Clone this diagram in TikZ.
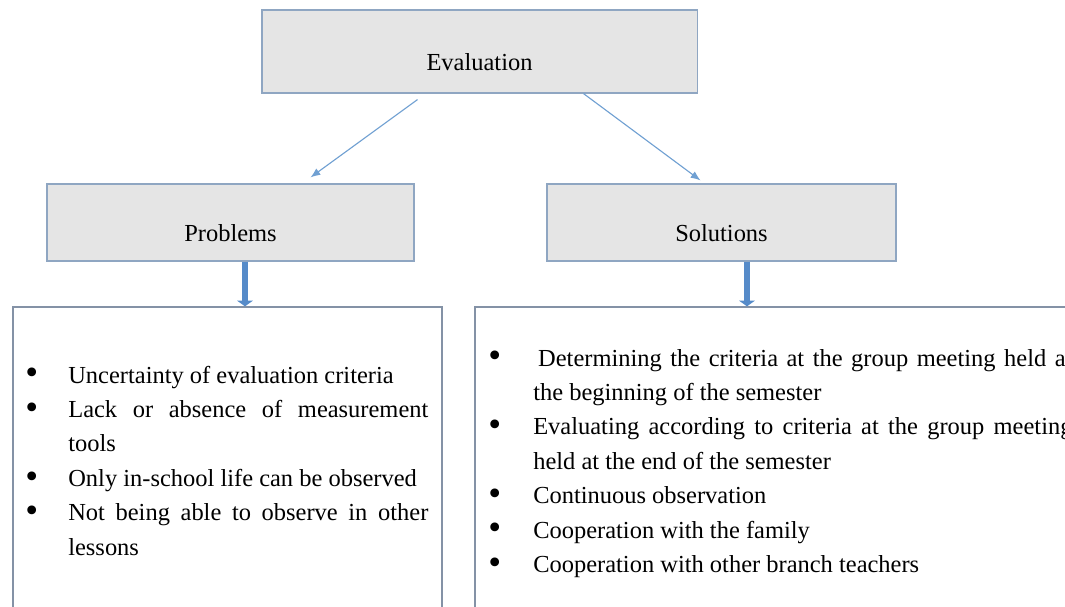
\documentclass[tikz,border=0pt]{standalone}
\usepackage{fontspec}
\setmainfont{Liberation Serif}
\usepackage{graphicx}
\usepackage{tikz}
\usetikzlibrary{arrows.meta,calc}
\definecolor{headfill}{RGB}{229,229,229}
\definecolor{headedge}{RGB}{143,166,194}
\definecolor{listedge}{RGB}{132,146,166}
\definecolor{thinblue}{RGB}{112,160,210}
\definecolor{thickblue}{RGB}{86,139,201}
\tikzstyle{head box}=[draw=headedge,fill=headfill,line width=0.8pt,inner sep=0pt,text height=30.5pt,text depth=4pt,minimum height=1.925cm]
\tikzstyle{list box}=[draw=listedge,line width=0.9pt,inner sep=0pt]
\tikzstyle{list text}=[anchor=base west,inner sep=0pt,align=justify]
\tikzstyle{thin edge}=[draw=thinblue,line width=0.8pt,-{Latex[length=7pt,width=5.5pt]}]
\tikzstyle{thick edge}=[draw=thickblue,line width=4.5pt,-{Triangle[length=4pt,width=11pt]}]
\newlength{\bulhang}
\newcommand{\bul}[1]{\noindent\hangindent=\bulhang\hangafter=1\makebox[\bulhang][l]{\raisebox{-1.2pt}{\scalebox{1.5}{\textbullet}}}#1\par}

\begin{document}
\begin{tikzpicture}[x=0.025cm,y=-0.025cm,font=\fontsize{17.4}{24.5}\selectfont]
    \useasboundingbox (0,0) rectangle (1065,606);
    \clip (0,0) rectangle (1065,606);
    % The three grey heading boxes
    \node[head box,minimum width=10.875cm,minimum height=2.075cm] (eval) at (479.5,51.5) {Evaluation};
    \node[head box,minimum width=9.175cm] (prob) at (230.5,222.5) {Problems};
    \node[head box,minimum width=8.725cm] (sol) at (721.5,222.5) {Solutions};

    % The two list boxes (cut off at the bottom)
    \node[list box,minimum width=10.725cm,minimum height=7.7cm] (problist) at (227.5,461) {};
    \node[list box,minimum width=15.25cm,minimum height=7.7cm] (sollist) at (780,461) {};

    % Arrows from the top box down to the headings
    \path[thin edge] ($(eval.south)+(-62,6)$) -- ($(prob.north)+(80,-6)$);
    \path[thin edge] ($(eval.south)+(104,0)$) -- ($(sol.north)+(-21,-3)$);

    % Thick arrows from the headings into the lists
    \coordinate (probfoot) at ($(prob.south)+(14.5,0)$);
    \coordinate (solfoot) at ($(sol.south)+(25.5,0)$);
    \foreach \source/\dest in {probfoot/problist, solfoot/sollist}
        \path[thick edge] (\source) -- (\source |- \dest.north);

    % List texts
    \node[list text,text width=10.075cm] (probtext) at (25,383) {\setlength{\bulhang}{30.6pt}%
        \bul{Uncertainty of evaluation criteria}
        \bul{Lack or absence of measurement\linebreak tools}
        \bul{Only in-school life can be observed}
        \bul{Not being able to observe in other\linebreak lessons}};
    \node[list text,text width=14.6cm] (soltext) at (488,366) {\setlength{\bulhang}{32pt}%
        \bul{\hspace{3.5pt}Determining the criteria at the group meeting held at\linebreak the beginning of the semester}
        \bul{Evaluating according to criteria at the group meeting\linebreak held at the end of the semester}
        \bul{Continuous observation}
        \bul{Cooperation with the family}
        \bul{Cooperation with other branch teachers}};
\end{tikzpicture}
\end{document}
